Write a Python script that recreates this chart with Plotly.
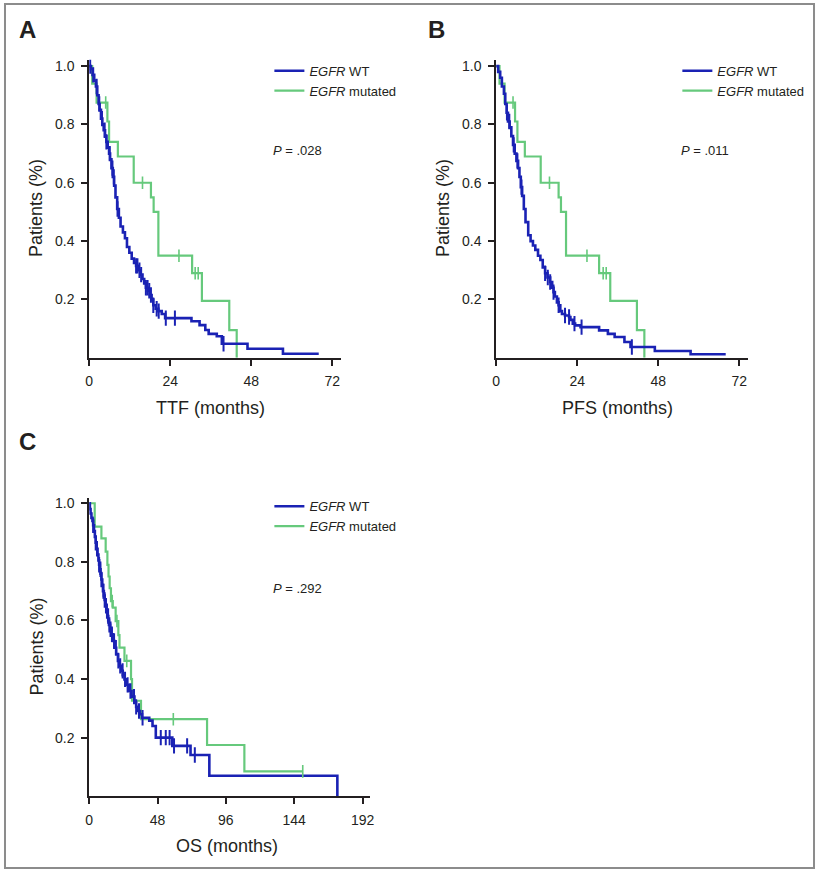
import numpy as np
import plotly.graph_objects as go

W, H = 819, 869
FONT = "Liberation Sans, Arial, sans-serif"
TXT = "#231f20"
BLUE = "#1a22b4"
GREEN = "#66c97c"

# ---------------- Panel A : TTF ----------------
A_WT_TIME = [0.5, 1.0, 1.5, 2.0, 2.4, 2.8, 3.1, 3.5, 3.9, 4.3, 4.7, 5.1, 5.5, 5.9, 6.2, 6.6, 7.0, 7.4,
             7.8, 8.3, 8.8, 9.3, 10.0, 10.6, 11.2, 11.9, 12.6, 13.3, 13.9, 14.5, 15.2, 15.8, 16.3, 16.8,
             17.4, 18.0, 18.5, 19.0, 19.7, 20.5, 21.5, 22.5, 30.3, 32.7, 34.4, 35.4, 37.8, 39.3, 46.9, 57.4]
A_WT_SURV = [0.99, 0.97, 0.95, 0.93, 0.90, 0.87, 0.85, 0.82, 0.80, 0.78, 0.76, 0.74, 0.72, 0.70, 0.68,
             0.65, 0.62, 0.59, 0.55, 0.51, 0.48, 0.45, 0.43, 0.41, 0.38, 0.36, 0.34, 0.325, 0.315, 0.30,
             0.285, 0.27, 0.255, 0.24, 0.23, 0.215, 0.20, 0.18, 0.168, 0.16, 0.15, 0.136, 0.125, 0.112,
             0.095, 0.082, 0.074, 0.048, 0.031, 0.014]
A_WT_END = 68.0
A_WT_CENSOR = [0.3, 1.2, 2.2, 3.0, 3.8, 4.6, 5.1, 6.1, 6.9, 7.3, 8.4, 13.9, 14.3, 14.9, 15.4, 16.8, 17.3,
               17.8, 18.3, 19.0, 20.0, 20.6, 22.7, 25.4, 39.8]

A_MUT_TIME = [0.9, 2.2, 5.4, 5.9, 8.5, 13.2, 18.3, 19.1, 20.5, 30.5, 33.4, 41.5, 43.7]
A_MUT_SURV = [0.94, 0.875, 0.81, 0.74, 0.69, 0.60, 0.55, 0.50, 0.35, 0.29, 0.195, 0.095, 0.0]
A_MUT_END = 43.7
A_MUT_CENSOR = [4.9, 15.8, 26.6, 31.4, 32.3]

# ---------------- Panel B : PFS ----------------
B_WT_TIME = [0.6, 1.2, 1.7, 2.3, 2.7, 3.1, 3.5, 4.0, 4.5, 5.0, 5.5, 6.0, 6.5, 6.9, 7.3, 7.7, 8.2, 8.7,
             9.5, 10.2, 10.9, 11.6, 12.4, 13.1, 13.8, 14.5, 15.2, 16.0, 16.6, 17.0, 17.4, 18.0, 18.5, 19.0,
             19.5, 20.4, 21.6, 22.0, 22.7, 23.4, 25.0, 30.5, 33.1, 35.1, 38.0, 39.8, 47.0, 57.6]
B_WT_SURV = [0.98, 0.96, 0.93, 0.905, 0.87, 0.84, 0.81, 0.79, 0.76, 0.73, 0.70, 0.675, 0.65, 0.62, 0.585,
             0.555, 0.51, 0.465, 0.42, 0.40, 0.385, 0.37, 0.35, 0.335, 0.31, 0.29, 0.275, 0.26, 0.24,
             0.225, 0.21, 0.19, 0.18, 0.16, 0.15, 0.145, 0.14, 0.13, 0.117, 0.111, 0.105, 0.094, 0.082,
             0.071, 0.054, 0.037, 0.023, 0.012]
B_WT_END = 68.0
B_WT_CENSOR = [3.2, 3.9, 5.2, 6.3, 7.5, 14.5, 15.3, 16.0, 17.0, 18.5, 20.4, 21.6, 23.2, 25.3, 40.2]

B_MUT_TIME = [1.0, 2.5, 5.6, 6.3, 8.5, 13.2, 18.5, 19.2, 20.7, 30.5, 33.8, 41.7, 43.9]
B_MUT_SURV = [0.94, 0.875, 0.81, 0.74, 0.69, 0.60, 0.55, 0.50, 0.35, 0.29, 0.195, 0.095, 0.0]
B_MUT_END = 43.9
B_MUT_CENSOR = [5.0, 15.8, 26.9, 31.7, 32.6]

# ---------------- Panel C : OS ----------------
C_WT_TIME = [0.5, 1.0, 1.6, 2.3, 2.8, 3.4, 4.0, 4.6, 5.3, 5.9, 6.5, 7.0, 7.5, 8.0, 8.6, 9.2, 9.7, 10.3,
             10.9, 11.5, 12.1, 12.8, 13.4, 13.9, 14.7, 15.5, 16.5, 17.8, 19.0, 20.2, 21.4, 22.5, 23.6, 24.8,
             26.3, 27.8, 29.8, 31.8, 33.0, 34.1, 35.6, 37.1, 42.2, 44.5, 46.8, 58.4, 71.2, 84.4, 174.3]
C_WT_SURV = [0.98, 0.965, 0.95, 0.94, 0.925, 0.905, 0.885, 0.865, 0.845, 0.825, 0.805, 0.79, 0.775, 0.76,
             0.74, 0.72, 0.70, 0.685, 0.67, 0.65, 0.632, 0.615, 0.60, 0.585, 0.57, 0.553, 0.53, 0.507,
             0.485, 0.462, 0.445, 0.428, 0.413, 0.399, 0.38, 0.359, 0.34, 0.32, 0.305, 0.291, 0.28, 0.268,
             0.258, 0.24, 0.20, 0.172, 0.141, 0.07, 0.0]
C_WT_END = 174.3
C_WT_CENSOR = [2.8, 4.6, 5.5, 7.0, 7.9, 8.6, 10.0, 10.9, 11.8, 12.5, 13.3, 14.2, 15.0, 16.0, 17.5, 18.8,
               20.5, 21.8, 23.5, 25.2, 27.0, 29.0, 31.5, 33.0, 35.0, 37.5, 50.3, 53.8, 56.5, 59.6, 68.8, 74.2]

C_MUT_TIME = [3.9, 8.6, 11.6, 12.8, 13.6, 14.4, 15.3, 16.6, 18.6, 20.5, 21.3, 24.8, 29.4, 30.1, 36.4,
              82.8, 109.0]
C_MUT_SURV = [0.92, 0.88, 0.835, 0.79, 0.75, 0.71, 0.666, 0.644, 0.598, 0.55, 0.507, 0.462, 0.40, 0.326,
              0.263, 0.175, 0.085]
C_MUT_END = 150.0
C_MUT_CENSOR = [16.2, 19.5, 26.4, 59.1, 150.0]

X_TICKS_AB = [0, 24, 48, 72]
X_TICKS_C = [0, 48, 96, 144, 192]
Y_TICKS = [0.2, 0.4, 0.6, 0.8, 1.0]


def px(x):
    return x / W


def py(y):
    return 1 - y / H


def step_xy(times, surv, end):
    xs = [0.0] + list(times)
    ys = [1.0] + list(surv)
    if end > xs[-1]:
        xs.append(end)
        ys.append(ys[-1])
    return xs, ys


def surv_at(times, surv, t):
    t_arr = np.array([0.0] + list(times))
    s_arr = np.array([1.0] + list(surv))
    idx = np.searchsorted(t_arr, np.array(t), side="right") - 1
    return s_arr[idx]


fig = go.Figure()

panels = [
    ("x", "y", "legend", A_WT_TIME, A_WT_SURV, A_WT_END, A_WT_CENSOR,
     A_MUT_TIME, A_MUT_SURV, A_MUT_END, A_MUT_CENSOR),
    ("x2", "y2", "legend2", B_WT_TIME, B_WT_SURV, B_WT_END, B_WT_CENSOR,
     B_MUT_TIME, B_MUT_SURV, B_MUT_END, B_MUT_CENSOR),
    ("x3", "y3", "legend3", C_WT_TIME, C_WT_SURV, C_WT_END, C_WT_CENSOR,
     C_MUT_TIME, C_MUT_SURV, C_MUT_END, C_MUT_CENSOR),
]

for (xa, ya, lg, wt_t, wt_s, wt_e, wt_c, mu_t, mu_s, mu_e, mu_c) in panels:
    gx, gy = step_xy(mu_t, mu_s, mu_e)
    bx, by = step_xy(wt_t, wt_s, wt_e)
    fig.add_trace(go.Scatter(x=gx, y=gy, mode="lines", line=dict(color=GREEN, width=2.2, shape="hv"),
                             name="<i>EGFR</i> mutated", xaxis=xa, yaxis=ya, legend=lg, legendrank=2))
    fig.add_trace(go.Scatter(x=bx, y=by, mode="lines", line=dict(color=BLUE, width=2.6, shape="hv"),
                             name="<i>EGFR</i> WT", xaxis=xa, yaxis=ya, legend=lg, legendrank=1))
    fig.add_trace(go.Scatter(x=mu_c, y=surv_at(mu_t, mu_s, mu_c), mode="markers", showlegend=False,
                             marker=dict(symbol="line-ns-open", size=9, color=GREEN,
                                         line=dict(color=GREEN, width=1.6)),
                             xaxis=xa, yaxis=ya, hoverinfo="skip"))
    fig.add_trace(go.Scatter(x=wt_c, y=surv_at(wt_t, wt_s, wt_c), mode="markers", showlegend=False,
                             marker=dict(symbol="line-ns-open", size=11, color=BLUE,
                                         line=dict(color=BLUE, width=2)),
                             xaxis=xa, yaxis=ya, hoverinfo="skip"))

axis_common = dict(showline=True, linecolor=TXT, linewidth=1.6, ticks="outside", ticklen=6,
                   tickwidth=1.5, tickcolor=TXT, showgrid=False, zeroline=False,
                   tickfont=dict(family=FONT, size=14, color=TXT))


def yax(top_px, bot_px, one_px, anchor):
    rng_top = (bot_px - top_px) / (bot_px - one_px)
    return dict(axis_common, domain=[py(bot_px), py(top_px)], range=[0, rng_top], anchor=anchor,
                tickvals=Y_TICKS, ticktext=[f"{v:.1f}" for v in Y_TICKS], ticklabelstandoff=4)


def xax(left_px, right_px, tmax, ticks, anchor):
    return dict(axis_common, domain=[px(left_px), px(right_px)], range=[0, tmax], anchor=anchor,
                tickvals=ticks, ticktext=[str(t) for t in ticks], ticklabelstandoff=4)


layout = dict(
    width=W, height=H, margin=dict(l=0, r=0, t=0, b=0),
    paper_bgcolor="white", plot_bgcolor="white",
    font=dict(family=FONT, color=TXT),
    xaxis=xax(86, 340, 74.5, X_TICKS_AB, "y"),
    yaxis=yax(57, 356, 63.3, "x"),
    xaxis2=xax(497, 751, 74.5, X_TICKS_AB, "y2"),
    yaxis2=yax(57, 356, 63.3, "x2"),
    xaxis3=xax(86, 370, 197.5, X_TICKS_C, "y3"),
    yaxis3=yax(497, 796, 502, "x3"),
)

leg_common = dict(font=dict(family=FONT, size=13, color=TXT), bgcolor="rgba(0,0,0,0)",
                  xanchor="left", yanchor="top", tracegroupgap=0, itemwidth=30,
                  traceorder="normal")
layout["legend"] = dict(leg_common, x=px(268), y=py(53))
layout["legend2"] = dict(leg_common, x=px(680), y=py(53))
layout["legend3"] = dict(leg_common, x=px(268), y=py(490))
fig.update_layout(**layout)

ann = []


def text(x, y, s, size, **kw):
    d = dict(x=px(x), y=py(y), xref="paper", yref="paper", text=s, showarrow=False,
             xanchor="center", yanchor="middle",
             font=dict(family=FONT, size=size, color=TXT))
    d.update(kw)
    ann.append(d)


# panel letters
text(24, 27, "<b>A</b>", 24)
text(437, 27, "<b>B</b>", 24)
text(24, 440, "<b>C</b>", 24)
# axis titles
text(33, 206, "Patients (%)", 18, textangle=-90)
text(444, 206, "Patients (%)", 18, textangle=-90)
text(33, 646, "Patients (%)", 18, textangle=-90)
text(209, 406, "TTF (months)", 18)
text(620, 406, "PFS (months)", 18)
text(225, 846, "OS (months)", 18)
# p values
text(270, 148, "<i>P</i> = .028", 13, xanchor="left")
text(682, 148, "<i>P</i> = .011", 13, xanchor="left")
text(270, 588, "<i>P</i> = .292", 13, xanchor="left")
fig.update_layout(annotations=ann)

fig.add_shape(type="rect", xref="paper", yref="paper", x0=px(1), x1=px(818), y0=py(868), y1=py(1),
              line=dict(color="#8c8c8c", width=2), fillcolor="rgba(0,0,0,0)", layer="below")

fig.write_html("out.html", config={"displayModeBar": False},
               post_script="document.body.style.margin='0';document.body.style.overflow='hidden';")
